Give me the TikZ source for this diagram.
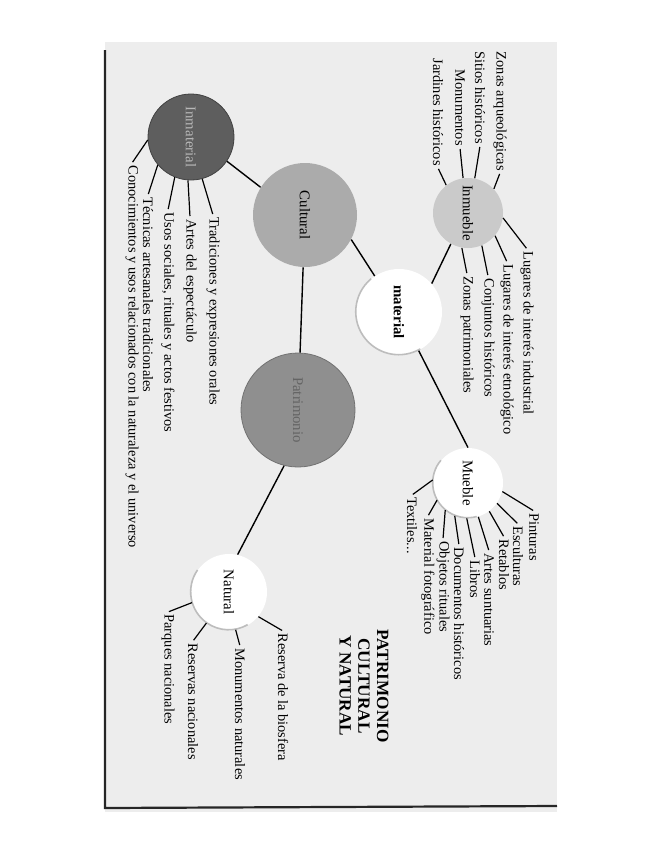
\documentclass[tikz,border=0pt]{standalone}
\usepackage{fontspec}
\setmainfont{Liberation Serif}
\definecolor{cPage}{HTML}{EDEDED}
\definecolor{cInmat}{HTML}{5E5E5E}
\definecolor{cCult}{HTML}{ABABAB}
\definecolor{cPatr}{HTML}{8F8F8F}
\definecolor{cInmb}{HTML}{CACACA}
\definecolor{cRim}{HTML}{BDBDBD}
\tikzset{
    hub/.style={circle, inner sep=0pt, line width=0.4pt},
    hublbl/.style={rotate=-90, inner sep=0pt, font=\fontsize{7.4}{8.6}\selectfont},
    leaf/.style={rotate=-90, inner sep=1pt, font=\fontsize{7.2}{8.6}\selectfont},
    tick/.style={line width=0.6pt, shorten >=0.5pt},
    link/.style={line width=0.7pt},
    rim/.style={draw=cRim, line width=0.8pt},
    pageline/.style={line width=1.1pt, black!85},
    ttl/.style={rotate=-90, align=center, font=\fontsize{8.6}{9.4}\selectfont\bfseries},
}
\begin{document}
\begin{tikzpicture}[x=0.5pt, y=-0.5pt]
\useasboundingbox (0,0) rectangle (655,848);

% page
\fill[cPage] (105,42) rectangle (557,812);
\draw[pageline] (105,50) -- (105,808) -- (557,806);

% circles
\node[hub, fill=cInmat, draw=cInmat!70!black, minimum size=43pt,
      label={[hublbl, text=cInmat!45!white]center:Inmaterial}] (inmat) at (191,137) {};
\node[hub, fill=cCult, minimum size=52pt,
      label={[hublbl]center:Cultural}] (cult) at (305,215) {};
\node[hub, fill=cInmb, minimum size=35pt,
      label={[hublbl]center:Inmueble}] (inmb) at (468,213) {};
\node[hub, fill=cPatr, draw=cPatr!80!black, minimum size=57pt,
      label={[hublbl, text=cPatr!70!black]center:Patrimonio}] (patr) at (298,410) {};
\node[hub, fill=white, minimum size=43pt,
      label={[hublbl, font=\fontsize{7.4}{8.6}\selectfont\bfseries]center:material}] (mat) at (399,312) {};
\node[hub, fill=white, minimum size=35pt,
      label={[hublbl]center:Mueble}] (mueb) at (468,483) {};
\node[hub, fill=white, minimum size=38pt,
      label={[hublbl]center:Natural}] (nat) at (229,592) {};

\draw[rim] (mat.130) arc[start angle=-130, end angle=-300, radius=43];
\draw[rim] (mueb.140) arc[start angle=-140, end angle=-285, radius=35];
\draw[rim] (nat.145) arc[start angle=-145, end angle=-300, radius=38];

% links between circles
\draw[link] (inmat.-34) -- (cult.148);
\draw[link] (cult) -- (patr);
\draw[link] (cult.-28) -- (mat.124);
\draw[link] (inmb.-119) -- (mat.41);
\draw[link] (mat.-63) -- (mueb.90);
\draw[link] (patr.-104) -- (nat.77);

% leaves
\foreach \nm/\xx/\yy/\ang/\lbl in {%
    tra/213/215/-75/{Tradiciones y expresiones orales},
    art/190/217/-94/{Artes del espectáculo},
    uso/168/210/-112/{Usos sociales, rituales y actos festivos},
    tec/148/195/-140/{Técnicas artesanales tradicionales},
    con/132/163/-176/{Conocimientos y usos relacionados con la naturaleza y el universo}}{%
    \node[leaf, anchor=west] (\nm) at (\xx,\yy) {\lbl};
    \draw[tick] (inmat.\ang) -- (\nm.west);
}

\foreach \nm/\xx/\yy/\ang/\lbl in {%
    zar/500/173/43/{Zonas arqueológicas},
    sit/480/146/79/{Sitios históricos},
    mon/460/148/98/{Monumentos},
    jar/438/168/128/{Jardines históricos}}{%
    \node[leaf, anchor=east] (\nm) at (\xx,\yy) {\lbl};
    \draw[tick] (inmb.\ang) -- (\nm.east);
}

\foreach \nm/\xx/\yy/\ang/\lbl in {%
    lin/527/249/-8/{Lugares de interés industrial},
    let/507/262/-40/{Lugares de interés etnológico},
    cjh/488/276/-67/{Conjuntos históricos},
    zpa/467/274/-100/{Zonas patrimoniales}}{%
    \node[leaf, anchor=west] (\nm) at (\xx,\yy) {\lbl};
    \draw[tick] (inmb.\ang) -- (\nm.west);
}

\foreach \nm/\xx/\yy/\ang/\lbl in {%
    pin/534/511/-14/Pinturas,
    esc/518/524/-35/Esculturas,
    ret/504/537/-53/Retablos,
    ars/489/551/-73/{Artes suntuarias},
    lib/475/558/-92/Libros,
    doc/459/545/-112/{Documentos históricos},
    obj/443/539/-130/{Objetos rituales},
    mfo/428/516/-151/{Material fotográfico},
    tex/412/495/175/{Textiles...}}{%
    \node[leaf, anchor=west] (\nm) at (\xx,\yy) {\lbl};
    \draw[tick] (mueb.\ang) -- (\nm.west);
}

\foreach \nm/\xx/\yy/\ang/\lbl in {%
    rbi/283/631/-40/{Reserva de la biosfera},
    mna/240/646/-80/{Monumentos naturales},
    rna/193/641/-126/{Reservas nacionales},
    pna/168/612/-164/{Parques nacionales}}{%
    \node[leaf, anchor=west] (\nm) at (\xx,\yy) {\lbl};
    \draw[tick] (nat.\ang) -- (\nm.west);
}

% title
\node[ttl] (title) at (364,686) {PATRIMONIO\\CULTURAL\\Y NATURAL};

\end{tikzpicture}
\end{document}
